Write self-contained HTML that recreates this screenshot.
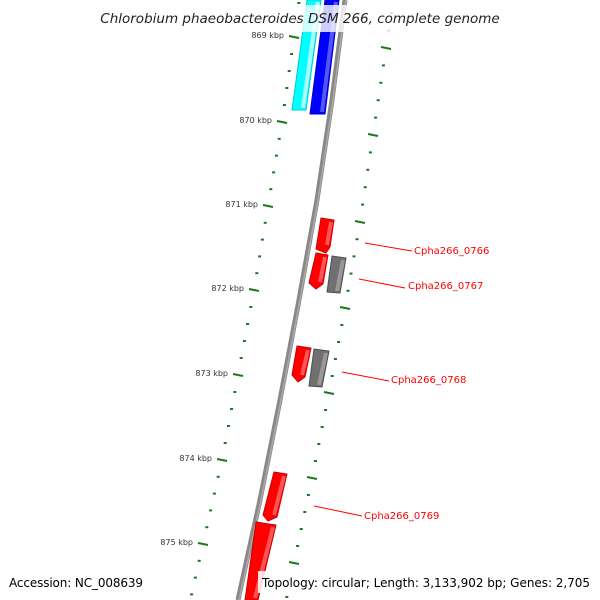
<!DOCTYPE html>
<html><head><meta charset="utf-8"><style>html,body{margin:0;padding:0;background:#fff}svg{display:block}text{font-family:"DejaVu Sans","Liberation Sans",sans-serif}</style></head>
<body>
<svg id="map" width="600" height="600" viewBox="0 0 600 600" xmlns="http://www.w3.org/2000/svg">
<defs>
<linearGradient id="bb" x1="0" x2="1" y1="0" y2="0"><stop offset="0" stop-color="#999"/><stop offset="0.5" stop-color="#666"/><stop offset="1" stop-color="#aaa"/></linearGradient>
</defs>
<g id="ticks"></g>
<path d="M345,0 L332,100 L317,200 L299,300 L280,400 L260,500 L238,600" fill="none" stroke="#888" stroke-width="5"/>
<path d="M346,0 L333,100 L318,200 L300,300 L281,400 L261,500 L239,600" fill="none" stroke="#aaa" stroke-width="1.5"/>
<g id="genes"></g>
<g id="labels"></g>
<rect x="93" y="5" width="414" height="27" fill="#fff" opacity="0.8"/>
<text x="300" y="23" text-anchor="middle" font-size="13.5" font-style="italic" fill="#222">Chlorobium phaeobacteroides DSM 266, complete genome</text>
<text x="9" y="587" font-size="12" fill="#000" textLength="134">Accession: NC_008639</text>
<rect x="258" y="571" width="336" height="22" fill="#fff" opacity="0.85"/>
<text x="262" y="587" font-size="12" fill="#000" textLength="328">Topology: circular; Length: 3,133,902 bp; Genes: 2,705</text>
</svg>
<script>
const NS='http://www.w3.org/2000/svg';
const tickLabels=['869 kbp','870 kbp','871 kbp','872 kbp','873 kbp','874 kbp','875 kbp'];
const geneNames=['Cpha266_0766','Cpha266_0767','Cpha266_0768','Cpha266_0769'];
const geneColors=['cyan','blue','red','red','gray','red','gray','red','red'];
// left ring major tick anchor points (x,y)
const leftMajX=[294,282,268,254,238,222,203], leftMajY=[37,122,206,290,375,460,544];
const rightMajX=[386,373,360,345,329,312,294], rightMajY=[48,135,222,308,393,478,563];
function mk(tag,attrs,parent){const e=document.createElementNS(NS,tag);for(const k in attrs)e.setAttribute(k,attrs[k]);parent.appendChild(e);return e;}
const tg=document.getElementById('ticks');
function ring(xs,ys,labels){
  for(let i=0;i<xs.length;i++){
    const t=mk('line',{x1:xs[i]-5,y1:ys[i]-1,x2:xs[i]+5,y2:ys[i]+1,stroke:'#1a7a1a','stroke-width':2},tg);
    
    
    if(labels){const l=mk('text',{x:xs[i]-10,y:ys[i]+1,'font-size':8,'text-anchor':'end',fill:'#333'},tg);l.textContent=labels[i];
      
      }
    const nx=i<xs.length-1?xs[i+1]:xs[i]+(xs[i]-xs[i-1]), ny=i<ys.length-1?ys[i+1]:ys[i]+(ys[i]-ys[i-1]);
    for(let j=1;j<5;j++){const x=xs[i]+(nx-xs[i])*j/5,y=ys[i]+(ny-ys[i])*j/5;if(y>600)break;
      const d=mk('rect',{x:x-1.5,y:y-1,width:3,height:2,fill:'#1a7a1a'},tg);
      
      }
    if(i==0){for(let j=1;j<3;j++){const x=xs[0]-(nx-xs[0])*j/5,y=ys[0]-(ny-ys[0])*j/5;
      const d=mk('rect',{x:x-1.5,y:y-1,width:3,height:2,fill:'#1a7a1a'},tg);
      
      }}
  }
}
ring(leftMajX,leftMajY,tickLabels);
ring(rightMajX,rightMajY,null);
const gg=document.getElementById('genes');
const col={cyan:['#00ffff','#00cccc','#aaffff'],blue:['#0000ff','#0000bb','#5555ff'],red:['#ff0000','#cc0000','#ff5555'],gray:['#707070','#505050','#999']};
const shapes=[
 ['cyan','307,0 321,0 306,110 292,110'],
 ['blue','325,0 339,0 325,114 310,114'],
 ['red','321,218 334,220 330,247 326,253 316,249'],
 ['red','316,253 328,255 323,284 316,289 309,283'],
 ['gray','332,256 346,258 340,293 327,292'],
 ['red','297,346 311,348 305,377 298,382 292,375'],
 ['gray','314,349 329,351 322,387 309,386'],
 ['red','274,472 287,474 277,517 268,521 263,515'],
 ['red','256,522 276,525 258,600 245,600']
];
shapes.forEach((s,i)=>{const c=col[s[0]];
  const p=mk('polygon',{points:s[1],fill:c[0],stroke:c[1],'stroke-width':1},gg);
  
  
  const pts=s[1].split(' ').map(q=>q.split(',').map(Number));
  const a=pts[1],b=pts[pts.length===5?2:2];
  const h=mk('line',{x1:a[0]-3,y1:a[1]+2,x2:b[0]-3,y2:b[1]-2,stroke:c[2],'stroke-width':4},gg);
  
  
});
const lg=document.getElementById('labels');
const lbl=[[365,243,412,251,414,254],[359,279,405,288,408,289],[342,372,389,381,391,383],[314,506,362,516,364,519]];
lbl.forEach((L,i)=>{
  const l=mk('line',{x1:L[0],y1:L[1],x2:L[2],y2:L[3],stroke:'red','stroke-width':1},lg);
  
  
  const t=mk('text',{x:L[4],y:L[5],'font-size':10,fill:'red'},lg);t.textContent=geneNames[i];
  
  
});
</script>
</body></html>
